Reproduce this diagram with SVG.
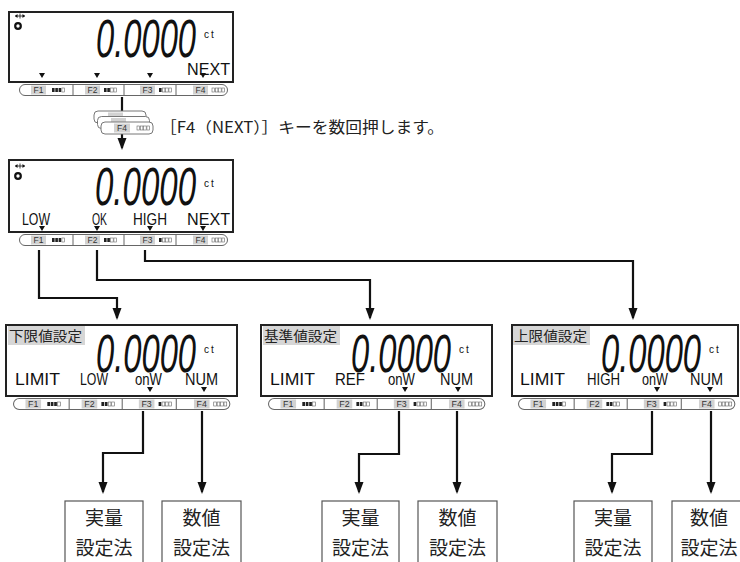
<svg xmlns="http://www.w3.org/2000/svg" xmlns:xlink="http://www.w3.org/1999/xlink" width="740" height="562" viewBox="0 0 740 562">
<style>
.disp{fill:#fff;stroke:#222;stroke-width:2}
.dig{font-family:"Liberation Sans",Arial,sans-serif;font-style:italic;font-size:54px;fill:#111}
.ct{font-family:"Liberation Sans",Arial,sans-serif;font-size:10px;fill:#111;letter-spacing:2px}
.lcd{font-family:"Liberation Sans",Arial,sans-serif;font-size:17px;fill:#111}
.tri{fill:#111}
.kbr{fill:#fff;stroke:#666;stroke-width:1}
.kbs{stroke:#666;stroke-width:1;fill:none}
.kbl{fill:#d2d2d2}
.kbt{font-family:"Liberation Sans",Arial,sans-serif;font-size:8.5px;fill:#333;text-anchor:middle}
.on{fill:#222}
.off{fill:#fff;stroke:#666;stroke-width:0.6}
.lbl{fill:#d6d6d6}
.lblt{font-family:"Noto Sans CJK JP",sans-serif;font-size:13.5px;fill:#222}
.conn{fill:none;stroke:#111;stroke-width:2.2}
.box{fill:#fff;stroke:#555;stroke-width:1.2}
.boxt{font-family:"Noto Sans CJK JP",sans-serif;font-size:19px;fill:#222;text-anchor:middle}
.note{font-family:"Noto Sans CJK JP",sans-serif;font-size:15.5px;fill:#222}
.card{fill:#fff;stroke:#777;stroke-width:1}
</style>
<defs>
<marker id="ah" markerUnits="userSpaceOnUse" markerWidth="12" markerHeight="10" viewBox="0 0 12 10" refX="10" refY="5" orient="auto">
<path d="M0,0.5 L12,5 L0,9.5 z" fill="#111"/>
</marker>
<g id="i4"><rect x="0" y="0" width="2.6" height="4" class="on"/><rect x="3.3" y="0" width="2.6" height="4" class="on"/><rect x="6.6" y="0" width="2.6" height="4" class="on"/><rect x="9.9" y="0" width="2.6" height="4" class="off"/></g>
<g id="i3"><rect x="0" y="0" width="2.6" height="4" class="on"/><rect x="3.3" y="0" width="2.6" height="4" class="on"/><rect x="6.6" y="0" width="2.6" height="4" class="off"/><rect x="9.9" y="0" width="2.6" height="4" class="off"/></g>
<g id="i2"><rect x="0" y="0" width="2.6" height="4" class="on"/><rect x="3.3" y="0" width="2.6" height="4" class="off"/><rect x="6.6" y="0" width="2.6" height="4" class="off"/><rect x="9.9" y="0" width="2.6" height="4" class="off"/></g>
<g id="i1"><rect x="0" y="0" width="2.6" height="4" class="off"/><rect x="3.3" y="0" width="2.6" height="4" class="off"/><rect x="6.6" y="0" width="2.6" height="4" class="off"/><rect x="9.9" y="0" width="2.6" height="4" class="off"/></g>
<g id="kb">
<rect x="0.5" y="0.5" width="208" height="11" rx="5.5" class="kbr"/>
<path d="M54 0.5V11.5M105 0.5V11.5M157 0.5V11.5" class="kbs"/>
<rect x="12" y="1.5" width="15" height="9" class="kbl"/><text x="19.5" y="9.2" class="kbt">F1</text>
<use xlink:href="#i4" x="33" y="4"/>
<rect x="66" y="1.5" width="15" height="9" class="kbl"/><text x="73.5" y="9.2" class="kbt">F2</text>
<use xlink:href="#i3" x="85" y="4"/>
<rect x="121" y="1.5" width="15" height="9" class="kbl"/><text x="128.5" y="9.2" class="kbt">F3</text>
<use xlink:href="#i2" x="140" y="4"/>
<rect x="174" y="1.5" width="15" height="9" class="kbl"/><text x="181.5" y="9.2" class="kbt">F4</text>
<use xlink:href="#i1" x="193" y="4"/>
</g>
<g id="stab"><path d="M-5 0H5M0 -2.5V2.5" stroke="#111" stroke-width="0.8"/><path d="M-5 0L-2.5 -2L-2.5 2z M5 0L2.5 -2L2.5 2z" fill="#111"/></g>
<path id="tr" d="M-3 0H3L0 5z"/>
</defs>

<g id="disp-main">
<rect x="9" y="12" width="224" height="70" class="disp"/>
<use xlink:href="#stab" x="20" y="16"/>
<circle cx="18" cy="26" r="2.8" fill="none" stroke="#111" stroke-width="2.2"/>
<text x="96" y="57" class="dig" textLength="100" lengthAdjust="spacingAndGlyphs">0.0000</text>
<text x="204" y="38" class="ct">ct</text>
<text x="187" y="75" class="lcd" textLength="43" lengthAdjust="spacingAndGlyphs">NEXT</text>
<use xlink:href="#tr" x="42" y="73" class="tri"/>
<use xlink:href="#tr" x="97" y="73" class="tri"/>
<use xlink:href="#tr" x="150" y="73" class="tri"/>
<use xlink:href="#tr" x="203" y="73" class="tri"/>
<use xlink:href="#kb" x="19" y="84"/>
</g>

<g id="key-hint">
<line x1="122" y1="97" x2="122" y2="148" class="conn" marker-end="url(#ah)"/>
<rect x="94" y="111" width="52" height="12" rx="4" class="card"/>
<rect x="108" y="112.5" width="15" height="9" class="kbl"/>
<rect x="97.5" y="116.5" width="52" height="12" rx="4" class="card"/>
<rect x="111" y="118" width="15" height="9" class="kbl"/>
<rect x="101" y="122" width="52" height="12" rx="4" class="card"/>
<rect x="114" y="123.5" width="16" height="9" class="kbl"/><text x="122" y="131.2" class="kbt">F4</text>
<use xlink:href="#i1" x="137" y="126"/>
<text x="160" y="133" class="note" textLength="284" lengthAdjust="spacingAndGlyphs">［F4（NEXT）］キーを数回押します。</text>
</g>

<g id="disp-select">
<rect x="9" y="160" width="224" height="72" class="disp"/>
<use xlink:href="#stab" x="20" y="166"/>
<circle cx="18" cy="176" r="2.8" fill="none" stroke="#111" stroke-width="2.2"/>
<text x="95" y="205" class="dig" textLength="101" lengthAdjust="spacingAndGlyphs">0.0000</text>
<text x="204" y="187" class="ct">ct</text>
<text x="22" y="225" class="lcd" textLength="28" lengthAdjust="spacingAndGlyphs">LOW</text>
<text x="92" y="225" class="lcd" textLength="15" lengthAdjust="spacingAndGlyphs">OK</text>
<text x="133" y="225" class="lcd" textLength="34" lengthAdjust="spacingAndGlyphs">HIGH</text>
<text x="187" y="225" class="lcd" textLength="43" lengthAdjust="spacingAndGlyphs">NEXT</text>
<use xlink:href="#tr" x="42" y="226" class="tri"/>
<use xlink:href="#tr" x="97" y="226" class="tri"/>
<use xlink:href="#tr" x="150" y="226" class="tri"/>
<use xlink:href="#tr" x="203" y="226" class="tri"/>
<use xlink:href="#kb" x="19" y="234"/>
</g>

<g id="disp-low" transform="translate(6,0)">
<rect x="0" y="325" width="231" height="71" class="disp"/>
<rect x="2" y="326" width="77" height="19" class="lbl"/>
<text x="3" y="341" class="lblt" textLength="73" lengthAdjust="spacingAndGlyphs">下限値設定</text>
<text x="90" y="372" class="dig" textLength="100" lengthAdjust="spacingAndGlyphs">0.0000</text>
<text x="198" y="353" class="ct">ct</text>
<text x="9" y="385" class="lcd" textLength="45" lengthAdjust="spacingAndGlyphs">LIMIT</text>
<text x="74" y="385" class="lcd" textLength="28" lengthAdjust="spacingAndGlyphs">LOW</text>
<text x="129" y="385" class="lcd" textLength="27" lengthAdjust="spacingAndGlyphs">onW</text>
<text x="179" y="385" class="lcd" textLength="33" lengthAdjust="spacingAndGlyphs">NUM</text>
<use xlink:href="#tr" x="144" y="387" class="tri"/>
<use xlink:href="#tr" x="198" y="387" class="tri"/>
<use xlink:href="#kb" transform="translate(7,398) scale(1.04,1)"/>
</g>

<g id="disp-ref" transform="translate(261,0)">
<rect x="0" y="325" width="231" height="71" class="disp"/>
<rect x="2" y="326" width="77" height="19" class="lbl"/>
<text x="3" y="341" class="lblt" textLength="73" lengthAdjust="spacingAndGlyphs">基準値設定</text>
<text x="90" y="372" class="dig" textLength="100" lengthAdjust="spacingAndGlyphs">0.0000</text>
<text x="198" y="353" class="ct">ct</text>
<text x="9" y="385" class="lcd" textLength="45" lengthAdjust="spacingAndGlyphs">LIMIT</text>
<text x="74" y="385" class="lcd" textLength="30" lengthAdjust="spacingAndGlyphs">REF</text>
<text x="127" y="385" class="lcd" textLength="27" lengthAdjust="spacingAndGlyphs">onW</text>
<text x="179" y="385" class="lcd" textLength="33" lengthAdjust="spacingAndGlyphs">NUM</text>
<use xlink:href="#tr" x="144" y="387" class="tri"/>
<use xlink:href="#tr" x="197" y="387" class="tri"/>
<use xlink:href="#kb" transform="translate(7,398) scale(1.04,1)"/>
</g>

<g id="disp-high" transform="translate(512,0)">
<rect x="0" y="325" width="226" height="71" class="disp"/>
<rect x="1" y="326" width="77" height="19" class="lbl"/>
<text x="2" y="341" class="lblt" textLength="73" lengthAdjust="spacingAndGlyphs">上限値設定</text>
<text x="89" y="372" class="dig" textLength="100" lengthAdjust="spacingAndGlyphs">0.0000</text>
<text x="197" y="353" class="ct">ct</text>
<text x="8" y="385" class="lcd" textLength="45" lengthAdjust="spacingAndGlyphs">LIMIT</text>
<text x="75" y="385" class="lcd" textLength="33" lengthAdjust="spacingAndGlyphs">HIGH</text>
<text x="130" y="385" class="lcd" textLength="26" lengthAdjust="spacingAndGlyphs">onW</text>
<text x="178" y="385" class="lcd" textLength="33" lengthAdjust="spacingAndGlyphs">NUM</text>
<use xlink:href="#tr" x="145" y="387" class="tri"/>
<use xlink:href="#tr" x="198" y="387" class="tri"/>
<use xlink:href="#kb" transform="translate(6,398) scale(1.04,1)"/>
</g>

<g id="box-low-actual"><rect x="65" y="501" width="78" height="70" class="box"/><text x="104" y="525" class="boxt">実量</text><text x="104" y="555" class="boxt">設定法</text></g>
<g id="box-low-num"><rect x="162" y="501" width="79" height="70" class="box"/><text x="201.5" y="525" class="boxt">数値</text><text x="201.5" y="555" class="boxt">設定法</text></g>
<g id="box-ref-actual"><rect x="322" y="501" width="77" height="70" class="box"/><text x="360.5" y="525" class="boxt">実量</text><text x="360.5" y="555" class="boxt">設定法</text></g>
<g id="box-ref-num"><rect x="418" y="501" width="79" height="70" class="box"/><text x="457.5" y="525" class="boxt">数値</text><text x="457.5" y="555" class="boxt">設定法</text></g>
<g id="box-high-actual"><rect x="574" y="501" width="78" height="70" class="box"/><text x="613" y="525" class="boxt">実量</text><text x="613" y="555" class="boxt">設定法</text></g>
<g id="box-high-num"><rect x="672" y="501" width="78" height="70" class="box"/><text x="709" y="525" class="boxt">数値</text><text x="709" y="555" class="boxt">設定法</text></g>

<g id="connectors">
<polyline points="39,250 39,298 117,298 117,318" class="conn" marker-end="url(#ah)"/>
<polyline points="97,250 97,280 370,280 370,318" class="conn" marker-end="url(#ah)"/>
<polyline points="145,250 145,261 633,261 633,318" class="conn" marker-end="url(#ah)"/>
<polyline points="143,411 143,453 103,453 103,492" class="conn" marker-end="url(#ah)"/>
<polyline points="202,411 202,492" class="conn" marker-end="url(#ah)"/>
<polyline points="399,411 399,454 359,454 359,492" class="conn" marker-end="url(#ah)"/>
<polyline points="457,411 457,492" class="conn" marker-end="url(#ah)"/>
<polyline points="652,411 652,454 612,454 612,492" class="conn" marker-end="url(#ah)"/>
<polyline points="711,411 711,492" class="conn" marker-end="url(#ah)"/>
</g>
</svg>
